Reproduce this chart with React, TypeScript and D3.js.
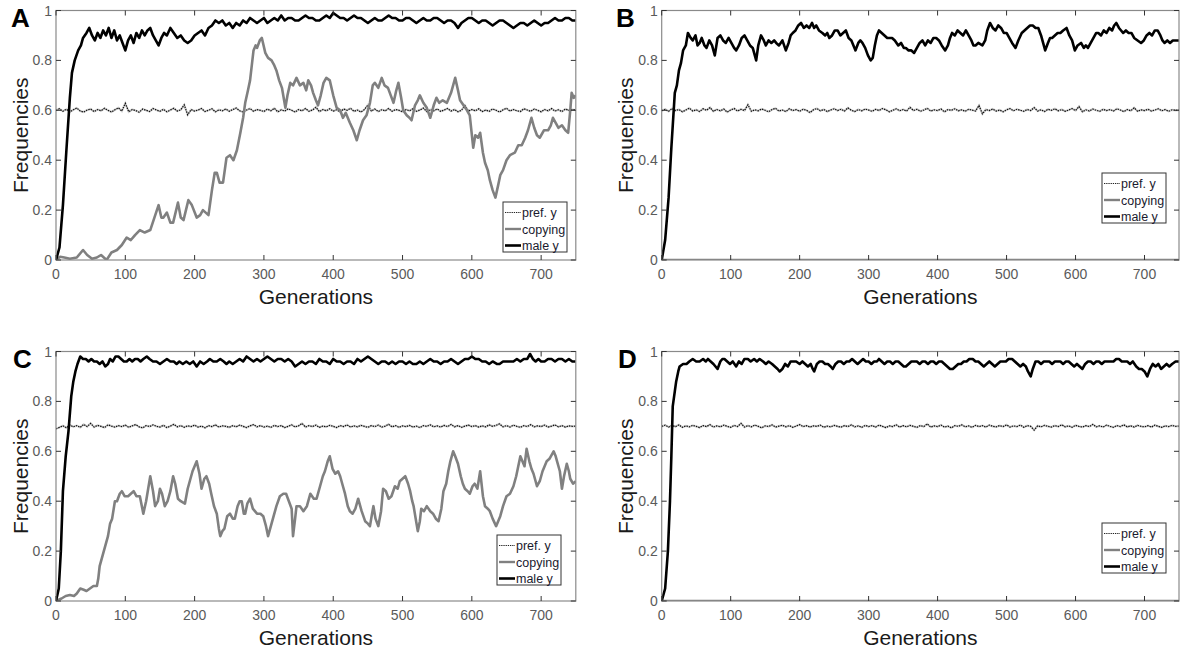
import React from "react";
import * as d3 from "d3";

// ---------- DATA ----------
const X_TICKS = [0, 100, 200, 300, 400, 500, 600, 700];
const Y_TICKS = [0, 0.2, 0.4, 0.6, 0.8, 1];
const Y_TICK_LABELS = ["0", "0.2", "0.4", "0.6", "0.8", "1"];
const SERIES_NAMES = ["pref. y", "copying", "male y"];
const PANEL_LETTERS = ["A", "B", "C", "D"];
const PREF_GENS = d3.range(0, 751, 5);

const prefA = [
  0.600,0.606,0.596,0.604,0.594,0.602,0.609,0.597,0.593,0.601,
  0.605,0.595,0.603,0.598,0.608,0.600,0.593,0.602,0.610,0.597,
  0.628,0.594,0.603,0.599,0.592,0.605,0.600,0.595,0.607,0.601,
  0.596,0.604,0.594,0.601,0.608,0.597,0.602,0.622,0.582,0.603,
  0.597,0.601,0.607,0.595,0.600,0.606,0.594,0.602,0.598,0.605,
  0.596,0.603,0.609,0.598,0.593,0.601,0.607,0.596,0.603,0.600,
  0.595,0.605,0.598,0.608,0.594,0.602,0.597,0.606,0.600,0.593,
  0.603,0.598,0.607,0.596,0.601,0.612,0.595,0.603,0.598,0.606,
  0.597,0.602,0.594,0.605,0.600,0.608,0.596,0.601,0.593,0.603,
  0.621,0.597,0.605,0.595,0.602,0.598,0.607,0.596,0.603,0.600,
  0.594,0.603,0.598,0.606,0.596,0.601,0.609,0.595,0.602,0.598,
  0.605,0.596,0.601,0.607,0.597,0.603,0.594,0.600,0.619,0.597,
  0.603,0.598,0.606,0.595,0.601,0.596,0.605,0.600,0.593,0.602,
  0.608,0.597,0.603,0.598,0.595,0.606,0.601,0.596,0.605,0.600,
  0.594,0.603,0.598,0.607,0.597,0.602,0.595,0.605,0.600,0.603,
  0.601,
];
const prefB = [
  0.598,0.604,0.596,0.607,0.599,0.603,0.594,0.601,0.609,0.597,
  0.602,0.595,0.606,0.600,0.611,0.596,0.603,0.598,0.605,0.593,
  0.601,0.607,0.597,0.604,0.599,0.622,0.596,0.602,0.598,0.605,
  0.600,0.594,0.603,0.608,0.597,0.601,0.595,0.606,0.599,0.603,
  0.596,0.604,0.600,0.591,0.602,0.607,0.598,0.603,0.595,0.601,
  0.606,0.599,0.604,0.597,0.610,0.600,0.595,0.603,0.598,0.605,
  0.601,0.596,0.604,0.599,0.607,0.602,0.594,0.600,0.606,0.598,
  0.603,0.597,0.612,0.599,0.604,0.596,0.601,0.608,0.597,0.602,
  0.599,0.605,0.594,0.603,0.600,0.606,0.598,0.602,0.596,0.604,
  0.601,0.597,0.619,0.586,0.603,0.599,0.605,0.597,0.601,0.594,
  0.602,0.607,0.598,0.604,0.600,0.596,0.603,0.599,0.611,0.597,
  0.602,0.595,0.604,0.600,0.606,0.598,0.603,0.596,0.601,0.607,
  0.599,0.615,0.594,0.602,0.597,0.605,0.600,0.596,0.604,0.599,
  0.603,0.597,0.606,0.601,0.595,0.603,0.598,0.610,0.596,0.602,
  0.599,0.604,0.597,0.601,0.606,0.598,0.603,0.596,0.602,0.600,
  0.601,
];
const prefC = [
  0.690,0.696,0.702,0.694,0.705,0.698,0.703,0.696,0.708,0.699,
  0.712,0.697,0.704,0.700,0.695,0.706,0.701,0.697,0.703,0.699,
  0.705,0.696,0.702,0.707,0.698,0.694,0.703,0.699,0.706,0.700,
  0.697,0.704,0.695,0.701,0.708,0.698,0.703,0.696,0.702,0.699,
  0.705,0.697,0.701,0.694,0.703,0.699,0.706,0.697,0.702,0.700,
  0.696,0.703,0.698,0.705,0.700,0.695,0.702,0.707,0.698,0.703,
  0.697,0.701,0.696,0.704,0.699,0.703,0.695,0.700,0.706,0.698,
  0.702,0.712,0.697,0.703,0.699,0.705,0.696,0.701,0.698,0.704,
  0.700,0.695,0.703,0.699,0.706,0.697,0.702,0.698,0.704,0.700,
  0.696,0.703,0.699,0.705,0.697,0.701,0.708,0.698,0.703,0.696,
  0.702,0.699,0.704,0.697,0.701,0.695,0.703,0.700,0.706,0.698,
  0.702,0.697,0.704,0.699,0.708,0.698,0.703,0.696,0.701,0.705,
  0.699,0.703,0.697,0.702,0.698,0.706,0.700,0.704,0.710,0.698,
  0.703,0.697,0.705,0.700,0.696,0.703,0.699,0.707,0.698,0.702,
  0.699,0.705,0.697,0.701,0.706,0.698,0.703,0.697,0.702,0.700,
  0.701,
];
const prefD = [
  0.700,0.705,0.697,0.703,0.699,0.706,0.696,0.702,0.698,0.704,
  0.700,0.695,0.703,0.699,0.707,0.697,0.702,0.698,0.705,0.700,
  0.696,0.704,0.699,0.712,0.697,0.703,0.698,0.705,0.700,0.694,
  0.702,0.699,0.706,0.697,0.701,0.704,0.698,0.703,0.696,0.701,
  0.707,0.699,0.703,0.697,0.702,0.700,0.705,0.696,0.701,0.698,
  0.704,0.700,0.697,0.703,0.699,0.706,0.698,0.702,0.696,0.704,
  0.699,0.703,0.697,0.705,0.700,0.695,0.702,0.699,0.706,0.697,
  0.703,0.698,0.704,0.700,0.696,0.703,0.699,0.710,0.697,0.702,
  0.699,0.705,0.697,0.701,0.694,0.703,0.700,0.706,0.698,0.702,
  0.696,0.704,0.699,0.703,0.697,0.705,0.700,0.698,0.703,0.699,
  0.706,0.697,0.702,0.699,0.705,0.696,0.703,0.700,0.685,0.702,
  0.698,0.704,0.700,0.697,0.703,0.699,0.706,0.698,0.702,0.696,
  0.704,0.700,0.697,0.703,0.699,0.708,0.698,0.702,0.697,0.705,
  0.700,0.696,0.703,0.699,0.706,0.698,0.702,0.697,0.704,0.700,
  0.698,0.703,0.697,0.705,0.700,0.696,0.702,0.699,0.704,0.700,
  0.701,
];

type Pt = [number, number];

const maleA: Pt[] = [[0,0],[5,0.05],[10,0.22],[15,0.44],[20,0.65],[23,0.75],[27,0.8],[32,0.84],[36,0.86],[39,0.89],[44,0.91],[48,0.93],[52,0.9],[56,0.88],[60,0.91],[64,0.89],[68,0.92],[72,0.9],[76,0.93],[80,0.89],[84,0.92],[88,0.88],[92,0.9],[96,0.87],[100,0.84],[104,0.88],[108,0.9],[112,0.87],[116,0.91],[120,0.89],[124,0.92],[128,0.9],[132,0.92],[136,0.93],[140,0.9],[144,0.88],[148,0.86],[152,0.89],[156,0.91],[160,0.9],[165,0.93],[170,0.91],[175,0.89],[180,0.9],[185,0.88],[190,0.87],[195,0.88],[200,0.9],[205,0.91],[210,0.92],[215,0.9],[220,0.93],[225,0.94],[230,0.96],[235,0.95],[240,0.96],[245,0.94],[250,0.95],[255,0.93],[260,0.95],[265,0.94],[270,0.96],[275,0.95],[280,0.97],[285,0.96],[290,0.95],[295,0.96],[300,0.97],[305,0.95],[310,0.96],[315,0.97],[320,0.96],[325,0.98],[330,0.96],[335,0.97],[340,0.97],[345,0.96],[350,0.96],[355,0.97],[360,0.98],[365,0.97],[370,0.97],[375,0.96],[380,0.96],[385,0.97],[390,0.98],[395,0.97],[400,0.99],[405,0.98],[410,0.97],[415,0.97],[420,0.96],[425,0.97],[430,0.98],[435,0.97],[440,0.97],[445,0.96],[450,0.95],[455,0.96],[460,0.97],[465,0.96],[470,0.96],[475,0.97],[480,0.98],[485,0.97],[490,0.97],[495,0.96],[500,0.96],[505,0.97],[510,0.97],[515,0.96],[520,0.95],[525,0.96],[530,0.97],[535,0.96],[540,0.96],[545,0.97],[550,0.97],[555,0.96],[560,0.95],[565,0.96],[570,0.96],[575,0.95],[580,0.93],[585,0.95],[590,0.96],[595,0.97],[600,0.97],[605,0.96],[610,0.95],[615,0.96],[620,0.96],[625,0.95],[630,0.94],[635,0.95],[640,0.96],[645,0.96],[650,0.95],[655,0.94],[660,0.93],[665,0.94],[670,0.95],[675,0.95],[680,0.94],[685,0.95],[690,0.96],[695,0.95],[700,0.94],[705,0.95],[710,0.95],[715,0.96],[720,0.97],[725,0.96],[730,0.96],[735,0.97],[740,0.97],[745,0.96],[750,0.96]];

const copyA: Pt[] = [[0,0],[6,0.013],[12,0.01],[20,0.005],[30,0.01],[39,0.04],[45,0.02],[52,0.005],[59,0.01],[65,0.02],[73,0],[80,0.03],[88,0.04],[95,0.06],[102,0.09],[108,0.08],[114,0.1],[121,0.12],[128,0.11],[136,0.12],[142,0.17],[148,0.22],[152,0.17],[155,0.17],[160,0.19],[165,0.15],[169,0.15],[176,0.23],[180,0.17],[184,0.16],[191,0.24],[196,0.22],[203,0.17],[208,0.18],[212,0.2],[216,0.19],[220,0.18],[225,0.28],[229,0.35],[232,0.35],[236,0.31],[241,0.31],[246,0.41],[251,0.42],[256,0.4],[261,0.44],[266,0.51],[270,0.57],[273,0.63],[277,0.68],[280,0.72],[285,0.84],[288,0.86],[290,0.85],[294,0.88],[297,0.89],[302,0.83],[306,0.81],[311,0.8],[315,0.78],[318,0.76],[322,0.72],[326,0.69],[331,0.61],[334,0.66],[338,0.71],[342,0.7],[347,0.73],[352,0.7],[357,0.71],[361,0.68],[364,0.72],[368,0.7],[371,0.67],[375,0.64],[378,0.62],[382,0.66],[386,0.71],[390,0.73],[395,0.72],[400,0.66],[405,0.61],[410,0.6],[414,0.57],[418,0.59],[424,0.55],[429,0.52],[434,0.48],[438,0.52],[443,0.56],[448,0.58],[453,0.63],[457,0.7],[460,0.71],[465,0.69],[470,0.73],[474,0.7],[479,0.69],[483,0.66],[487,0.63],[491,0.68],[494,0.71],[498,0.65],[501,0.6],[506,0.58],[510,0.57],[513,0.56],[518,0.62],[522,0.64],[525,0.66],[530,0.63],[535,0.61],[540,0.57],[545,0.62],[549,0.65],[553,0.63],[558,0.64],[564,0.63],[570,0.67],[576,0.73],[580,0.68],[583,0.64],[588,0.62],[593,0.6],[597,0.58],[602,0.45],[605,0.5],[609,0.49],[612,0.51],[616,0.43],[619,0.39],[623,0.36],[626,0.32],[630,0.28],[634,0.25],[638,0.3],[641,0.34],[645,0.36],[650,0.4],[655,0.42],[662,0.43],[667,0.46],[672,0.46],[677,0.49],[681,0.52],[686,0.57],[690,0.53],[694,0.5],[698,0.49],[704,0.52],[710,0.52],[714,0.54],[717,0.57],[721,0.55],[725,0.53],[730,0.54],[735,0.52],[739,0.51],[742,0.6],[744,0.67],[747,0.65],[750,0.66]];

const maleB: Pt[] = [[0,0],[5,0.08],[10,0.25],[14,0.45],[19,0.67],[22,0.7],[25,0.76],[28,0.79],[31,0.84],[35,0.86],[38,0.91],[42,0.89],[45,0.88],[49,0.9],[52,0.86],[55,0.87],[58,0.89],[62,0.86],[65,0.85],[69,0.88],[73,0.86],[77,0.82],[81,0.89],[85,0.9],[89,0.88],[93,0.87],[97,0.89],[101,0.87],[105,0.85],[108,0.84],[112,0.86],[116,0.89],[120,0.9],[124,0.88],[128,0.86],[132,0.85],[137,0.8],[140,0.86],[144,0.9],[148,0.88],[151,0.86],[155,0.88],[159,0.87],[163,0.88],[166,0.87],[170,0.86],[175,0.88],[180,0.84],[184,0.87],[187,0.9],[190,0.91],[194,0.92],[198,0.94],[202,0.95],[206,0.93],[210,0.94],[214,0.93],[218,0.95],[221,0.93],[224,0.94],[228,0.92],[233,0.91],[237,0.9],[240,0.91],[243,0.89],[247,0.9],[251,0.92],[255,0.92],[259,0.9],[263,0.91],[267,0.92],[271,0.89],[275,0.88],[278,0.86],[281,0.84],[285,0.87],[288,0.88],[291,0.87],[295,0.85],[299,0.82],[303,0.8],[306,0.81],[309,0.86],[312,0.9],[315,0.92],[319,0.91],[323,0.9],[327,0.89],[330,0.89],[334,0.89],[338,0.88],[343,0.86],[347,0.87],[351,0.85],[354,0.85],[358,0.84],[362,0.84],[366,0.83],[370,0.85],[374,0.87],[378,0.88],[382,0.86],[386,0.88],[390,0.87],[394,0.89],[398,0.89],[402,0.88],[406,0.86],[411,0.84],[415,0.86],[418,0.89],[421,0.91],[425,0.9],[429,0.92],[433,0.91],[437,0.9],[441,0.92],[445,0.9],[449,0.88],[452,0.86],[455,0.86],[459,0.87],[465,0.86],[469,0.88],[472,0.92],[476,0.95],[480,0.93],[484,0.92],[488,0.94],[492,0.93],[496,0.91],[500,0.91],[504,0.89],[508,0.87],[513,0.85],[517,0.88],[522,0.91],[526,0.92],[530,0.93],[534,0.94],[538,0.94],[542,0.93],[546,0.93],[550,0.9],[553,0.87],[556,0.84],[560,0.87],[563,0.89],[566,0.89],[570,0.9],[574,0.91],[578,0.91],[582,0.92],[587,0.93],[591,0.9],[595,0.88],[599,0.84],[603,0.86],[608,0.87],[612,0.85],[615,0.86],[618,0.85],[622,0.87],[626,0.89],[630,0.91],[633,0.91],[637,0.9],[641,0.92],[645,0.91],[649,0.93],[653,0.92],[656,0.94],[659,0.95],[663,0.93],[666,0.92],[669,0.91],[673,0.92],[677,0.91],[681,0.91],[685,0.89],[690,0.88],[695,0.87],[699,0.88],[703,0.9],[707,0.91],[711,0.9],[715,0.92],[719,0.92],[723,0.9],[726,0.88],[729,0.87],[733,0.88],[737,0.87],[741,0.88],[745,0.88],[750,0.88]];

const copyB: Pt[] = [[0,0],[750,0]];

const maleC: Pt[] = [[0,0],[4,0.05],[7,0.2],[10,0.44],[14,0.58],[18,0.68],[22,0.82],[25,0.88],[28,0.92],[31,0.95],[35,0.98],[39,0.97],[43,0.97],[47,0.96],[51,0.97],[55,0.96],[59,0.96],[63,0.95],[67,0.96],[71,0.94],[75,0.95],[78,0.97],[82,0.96],[86,0.98],[90,0.98],[94,0.97],[98,0.96],[102,0.96],[106,0.97],[110,0.96],[114,0.97],[118,0.97],[122,0.96],[126,0.97],[131,0.98],[135,0.97],[140,0.96],[145,0.96],[150,0.95],[155,0.96],[160,0.97],[165,0.96],[170,0.96],[174,0.95],[178,0.96],[183,0.95],[188,0.96],[193,0.95],[198,0.96],[203,0.94],[208,0.96],[213,0.95],[218,0.96],[222,0.97],[227,0.96],[232,0.96],[237,0.97],[242,0.96],[246,0.95],[250,0.96],[255,0.95],[260,0.96],[265,0.97],[270,0.96],[275,0.98],[280,0.97],[285,0.96],[290,0.97],[295,0.96],[300,0.97],[305,0.98],[310,0.97],[315,0.96],[320,0.97],[325,0.97],[330,0.96],[335,0.97],[340,0.96],[345,0.94],[350,0.95],[355,0.96],[360,0.95],[365,0.96],[370,0.96],[375,0.95],[380,0.97],[385,0.96],[390,0.96],[395,0.95],[400,0.97],[405,0.96],[410,0.96],[415,0.95],[420,0.96],[425,0.96],[430,0.95],[435,0.97],[440,0.96],[445,0.97],[450,0.98],[455,0.97],[460,0.96],[465,0.95],[470,0.96],[475,0.96],[480,0.95],[485,0.96],[490,0.95],[495,0.96],[500,0.96],[505,0.95],[510,0.96],[515,0.95],[520,0.95],[525,0.96],[530,0.95],[535,0.96],[540,0.97],[545,0.96],[550,0.96],[555,0.95],[560,0.96],[565,0.96],[570,0.97],[575,0.96],[580,0.95],[585,0.96],[590,0.97],[595,0.97],[600,0.98],[605,0.97],[610,0.97],[615,0.96],[620,0.96],[625,0.95],[630,0.96],[636,0.95],[640,0.95],[645,0.96],[650,0.96],[655,0.96],[660,0.96],[665,0.97],[670,0.96],[675,0.97],[680,0.97],[684,0.99],[688,0.97],[692,0.96],[696,0.97],[700,0.96],[705,0.96],[710,0.97],[715,0.97],[720,0.96],[725,0.97],[730,0.97],[735,0.96],[740,0.97],[745,0.96],[750,0.96]];

const copyC: Pt[] = [[0,0],[8,0.01],[14,0.02],[20,0.024],[26,0.02],[30,0.03],[35,0.05],[40,0.045],[44,0.04],[49,0.05],[54,0.06],[59,0.06],[61,0.09],[63,0.14],[67,0.18],[71,0.22],[75,0.26],[78,0.31],[81,0.33],[85,0.4],[88,0.4],[92,0.43],[95,0.44],[99,0.42],[104,0.42],[108,0.43],[112,0.44],[116,0.42],[121,0.42],[126,0.35],[130,0.4],[133,0.45],[136,0.5],[140,0.44],[143,0.38],[147,0.4],[150,0.45],[153,0.43],[157,0.38],[161,0.4],[165,0.44],[169,0.5],[172,0.47],[176,0.41],[180,0.4],[186,0.39],[190,0.45],[193,0.48],[197,0.52],[200,0.54],[203,0.56],[207,0.51],[210,0.45],[214,0.49],[217,0.5],[221,0.47],[224,0.43],[228,0.38],[232,0.35],[235,0.29],[237,0.26],[240,0.28],[243,0.29],[247,0.34],[251,0.35],[255,0.33],[258,0.33],[262,0.38],[265,0.4],[268,0.4],[271,0.35],[273,0.35],[276,0.39],[280,0.41],[284,0.37],[287,0.36],[290,0.35],[295,0.35],[299,0.34],[303,0.3],[306,0.26],[310,0.3],[314,0.34],[318,0.38],[323,0.42],[328,0.43],[332,0.43],[336,0.4],[340,0.37],[342,0.26],[345,0.33],[347,0.38],[352,0.38],[357,0.36],[362,0.38],[367,0.43],[372,0.41],[376,0.41],[381,0.46],[385,0.5],[388,0.52],[392,0.56],[395,0.58],[399,0.53],[403,0.51],[407,0.52],[410,0.5],[414,0.46],[417,0.43],[421,0.38],[424,0.36],[428,0.35],[432,0.37],[436,0.41],[441,0.36],[446,0.32],[450,0.31],[453,0.3],[456,0.35],[458,0.38],[461,0.33],[465,0.3],[469,0.36],[472,0.45],[476,0.44],[480,0.41],[484,0.42],[489,0.46],[493,0.45],[496,0.48],[500,0.49],[504,0.5],[508,0.47],[511,0.44],[514,0.4],[516,0.38],[519,0.33],[522,0.28],[525,0.32],[527,0.37],[531,0.36],[535,0.38],[540,0.36],[544,0.35],[548,0.33],[552,0.32],[556,0.37],[559,0.44],[563,0.47],[566,0.52],[569,0.56],[573,0.6],[576,0.58],[580,0.55],[584,0.5],[587,0.47],[590,0.45],[594,0.44],[597,0.43],[601,0.46],[604,0.47],[608,0.45],[612,0.52],[616,0.42],[619,0.38],[623,0.37],[626,0.36],[630,0.33],[635,0.3],[638,0.32],[641,0.34],[645,0.38],[650,0.42],[655,0.43],[660,0.46],[664,0.5],[667,0.54],[670,0.58],[673,0.56],[676,0.54],[679,0.61],[683,0.56],[686,0.53],[689,0.51],[692,0.48],[694,0.46],[698,0.48],[702,0.52],[705,0.54],[708,0.56],[712,0.57],[716,0.59],[718,0.6],[721,0.58],[723,0.56],[727,0.52],[730,0.45],[733,0.5],[737,0.55],[740,0.52],[742,0.49],[746,0.47],[750,0.48]];

const maleD: Pt[] = [[0,0],[5,0.05],[9,0.2],[12,0.4],[14,0.58],[16,0.78],[19,0.84],[21,0.88],[24,0.92],[26,0.94],[31,0.95],[36,0.95],[40,0.96],[45,0.97],[50,0.96],[55,0.96],[60,0.97],[64,0.96],[67,0.97],[71,0.96],[75,0.95],[78,0.94],[81,0.93],[85,0.96],[88,0.97],[91,0.97],[95,0.96],[99,0.95],[103,0.96],[108,0.94],[112,0.96],[116,0.95],[120,0.97],[125,0.97],[129,0.96],[134,0.97],[138,0.96],[142,0.97],[147,0.96],[151,0.95],[155,0.96],[160,0.95],[164,0.94],[168,0.93],[171,0.92],[175,0.93],[179,0.95],[183,0.94],[187,0.96],[191,0.96],[195,0.96],[200,0.95],[204,0.96],[208,0.95],[212,0.94],[216,0.95],[219,0.93],[221,0.92],[225,0.95],[229,0.96],[233,0.96],[237,0.95],[241,0.95],[245,0.94],[248,0.93],[252,0.95],[256,0.96],[260,0.96],[264,0.95],[268,0.96],[272,0.96],[276,0.97],[280,0.96],[284,0.95],[288,0.96],[292,0.97],[296,0.96],[300,0.96],[304,0.95],[308,0.96],[312,0.96],[315,0.97],[319,0.96],[323,0.95],[327,0.96],[331,0.96],[335,0.95],[339,0.96],[343,0.96],[347,0.95],[351,0.94],[354,0.94],[358,0.95],[362,0.96],[366,0.96],[370,0.96],[374,0.95],[378,0.96],[382,0.96],[386,0.95],[390,0.96],[394,0.96],[398,0.95],[402,0.96],[406,0.96],[410,0.95],[414,0.94],[418,0.93],[422,0.93],[426,0.94],[430,0.95],[434,0.95],[438,0.96],[442,0.96],[446,0.97],[451,0.97],[455,0.96],[459,0.96],[463,0.95],[467,0.94],[471,0.95],[475,0.96],[479,0.95],[483,0.94],[487,0.95],[491,0.96],[495,0.96],[499,0.96],[503,0.97],[508,0.97],[512,0.96],[516,0.95],[520,0.94],[524,0.95],[528,0.94],[531,0.92],[535,0.9],[538,0.93],[542,0.96],[546,0.96],[550,0.95],[554,0.96],[558,0.96],[562,0.96],[566,0.95],[570,0.96],[574,0.96],[578,0.96],[582,0.95],[586,0.96],[590,0.96],[594,0.95],[598,0.94],[602,0.95],[606,0.94],[610,0.93],[614,0.95],[618,0.96],[622,0.96],[626,0.95],[630,0.96],[634,0.96],[638,0.95],[642,0.96],[646,0.96],[650,0.96],[655,0.96],[659,0.97],[663,0.97],[667,0.96],[671,0.96],[675,0.96],[679,0.95],[683,0.96],[688,0.94],[692,0.93],[696,0.93],[700,0.92],[704,0.9],[708,0.93],[712,0.95],[716,0.94],[720,0.95],[724,0.93],[728,0.94],[732,0.95],[736,0.94],[740,0.95],[745,0.96],[750,0.96]];

const copyD: Pt[] = [[0,0],[750,0]];

// ---------- LAYOUT ----------
const W = 1181;
const H = 652;
const FONT = "'Liberation Sans', Arial, Helvetica, sans-serif";
const AXIS_COLOR = "#8a8a8a";
const TICK_TEXT = "#5a5a5a";

interface PanelSpec {
  id: string;
  letter: string;
  x0: number; x1: number; y0: number; y1: number;
  letterX: number; letterY: number;
  ylabelX: number;
  male: Pt[]; copy: Pt[]; pref: number[];
  legX: number; legY: number;
}

const PANELS: PanelSpec[] = [
  { id: "A", letter: PANEL_LETTERS[0], x0: 56, x1: 575.8, y0: 10.5, y1: 260, letterX: 11, letterY: 27, ylabelX: 21, male: maleA, copy: copyA, pref: prefA, legX: 503, legY: 202 },
  { id: "B", letter: PANEL_LETTERS[1], x0: 661.7, x1: 1179, y0: 10.5, y1: 260, letterX: 616, letterY: 27, ylabelX: 626, male: maleB, copy: copyB, pref: prefB, legX: 1102, legY: 173 },
  { id: "C", letter: PANEL_LETTERS[2], x0: 56, x1: 575.8, y0: 351.5, y1: 601, letterX: 13, letterY: 368, ylabelX: 21, male: maleC, copy: copyC, pref: prefC, legX: 497, legY: 535 },
  { id: "D", letter: PANEL_LETTERS[3], x0: 661.7, x1: 1179, y0: 351.5, y1: 601, letterX: 618, letterY: 368, ylabelX: 626, male: maleD, copy: copyD, pref: prefD, legX: 1102, legY: 523 },
];

function Panel({ p }: { p: PanelSpec }) {
  const x = d3.scaleLinear().domain([0, 750]).range([p.x0, p.x1]);
  const y = d3.scaleLinear().domain([0, 1]).range([p.y1, p.y0]);
  const line = d3.line<Pt>().x((d) => x(d[0])).y((d) => y(d[1]));
  const prefPts: Pt[] = PREF_GENS.map((g, i) => [g, p.pref[i]]);
  const clipId = `clip-${p.id}`;
  const tick = 5;
  const legW = 64;
  const legH = 50;
  const rowY = [p.legY + 10.5, p.legY + 27, p.legY + 43.5];
  return (
    <g>
      <defs>
        <clipPath id={clipId}>
          <rect x={p.x0} y={p.y0 - 2} width={p.x1 - p.x0} height={p.y1 - p.y0 + 2} />
        </clipPath>
      </defs>
      <g clipPath={`url(#${clipId})`}>
        <path d={line(prefPts) || ""} fill="none" stroke="#aaa" strokeWidth={2.2} strokeOpacity={0.5} />
        <path d={line(prefPts) || ""} fill="none" stroke="#111" strokeWidth={1.2} strokeDasharray="1.5 1" />
        <path d={line(p.copy) || ""} fill="none" stroke="#808080" strokeWidth={2.6} strokeLinejoin="round" />
        <path d={line(p.male) || ""} fill="none" stroke="#000" strokeWidth={2.6} strokeLinejoin="round" />
      </g>
      {/* box */}
      <rect x={p.x0} y={p.y0} width={p.x1 - p.x0} height={p.y1 - p.y0} fill="none" stroke={AXIS_COLOR} strokeWidth={1.2} />
      {/* x ticks */}
      {X_TICKS.map((t) => (
        <g key={`xt${t}`}>
          <line x1={x(t)} x2={x(t)} y1={p.y1} y2={p.y1 - tick} stroke="#333" strokeWidth={1} />
          <line x1={x(t)} x2={x(t)} y1={p.y0} y2={p.y0 + tick} stroke="#333" strokeWidth={1} />
          <text x={x(t)} y={p.y1 + 19} textAnchor="middle" fontFamily={FONT} fontSize={14} fill={TICK_TEXT}>{t}</text>
        </g>
      ))}
      {Y_TICKS.map((t, i) => (
        <g key={`yt${t}`}>
          <line x1={p.x0} x2={p.x0 + tick} y1={y(t)} y2={y(t)} stroke="#333" strokeWidth={1} />
          <line x1={p.x1} x2={p.x1 - tick} y1={y(t)} y2={y(t)} stroke="#333" strokeWidth={1} />
          <text x={p.x0 - 4} y={y(t)} dy="0.36em" textAnchor="end" fontFamily={FONT} fontSize={14} fill={TICK_TEXT}>{Y_TICK_LABELS[i]}</text>
        </g>
      ))}
      {/* labels */}
      <text x={(p.x0 + p.x1) / 2} y={p.y1 + 44} textAnchor="middle" fontFamily={FONT} fontSize={21} fill="#1a1a1a">Generations</text>
      <text transform={`translate(${p.ylabelX},${(p.y0 + p.y1) / 2}) rotate(-90)`} textAnchor="middle" dy="0.35em" fontFamily={FONT} fontSize={21} fill="#1a1a1a">Frequencies</text>
      <text x={p.letterX} y={p.letterY} fontFamily={FONT} fontWeight="bold" fontSize={26} fill="#000">{p.letter}</text>
      {/* legend */}
      <rect x={p.legX} y={p.legY} width={legW} height={legH} fill="#fff" stroke="#333" strokeWidth={1} />
      <line x1={p.legX + 2} x2={p.legX + 18} y1={rowY[0]} y2={rowY[0]} stroke="#222" strokeWidth={1} strokeDasharray="1.3 0.9" />
      <line x1={p.legX + 2} x2={p.legX + 18} y1={rowY[1]} y2={rowY[1]} stroke="#808080" strokeWidth={2.4} />
      <line x1={p.legX + 2} x2={p.legX + 18} y1={rowY[2]} y2={rowY[2]} stroke="#000" strokeWidth={2.6} />
      {SERIES_NAMES.map((n, i) => (
        <text key={n} x={p.legX + 19} y={rowY[i]} dy="0.36em" fontFamily={FONT} fontSize={12.5} fill="#1a1a2e">{n}</text>
      ))}
    </g>
  );
}

export default function App() {
  return (
    <svg width={W} height={H} viewBox={`0 0 ${W} ${H}`} style={{ position: "absolute", left: 0, top: 0, background: "#fff" }}>
      <rect x={0} y={0} width={W} height={H} fill="#fff" />
      {PANELS.map((p) => <Panel key={p.id} p={p} />)}
    </svg>
  );
}
